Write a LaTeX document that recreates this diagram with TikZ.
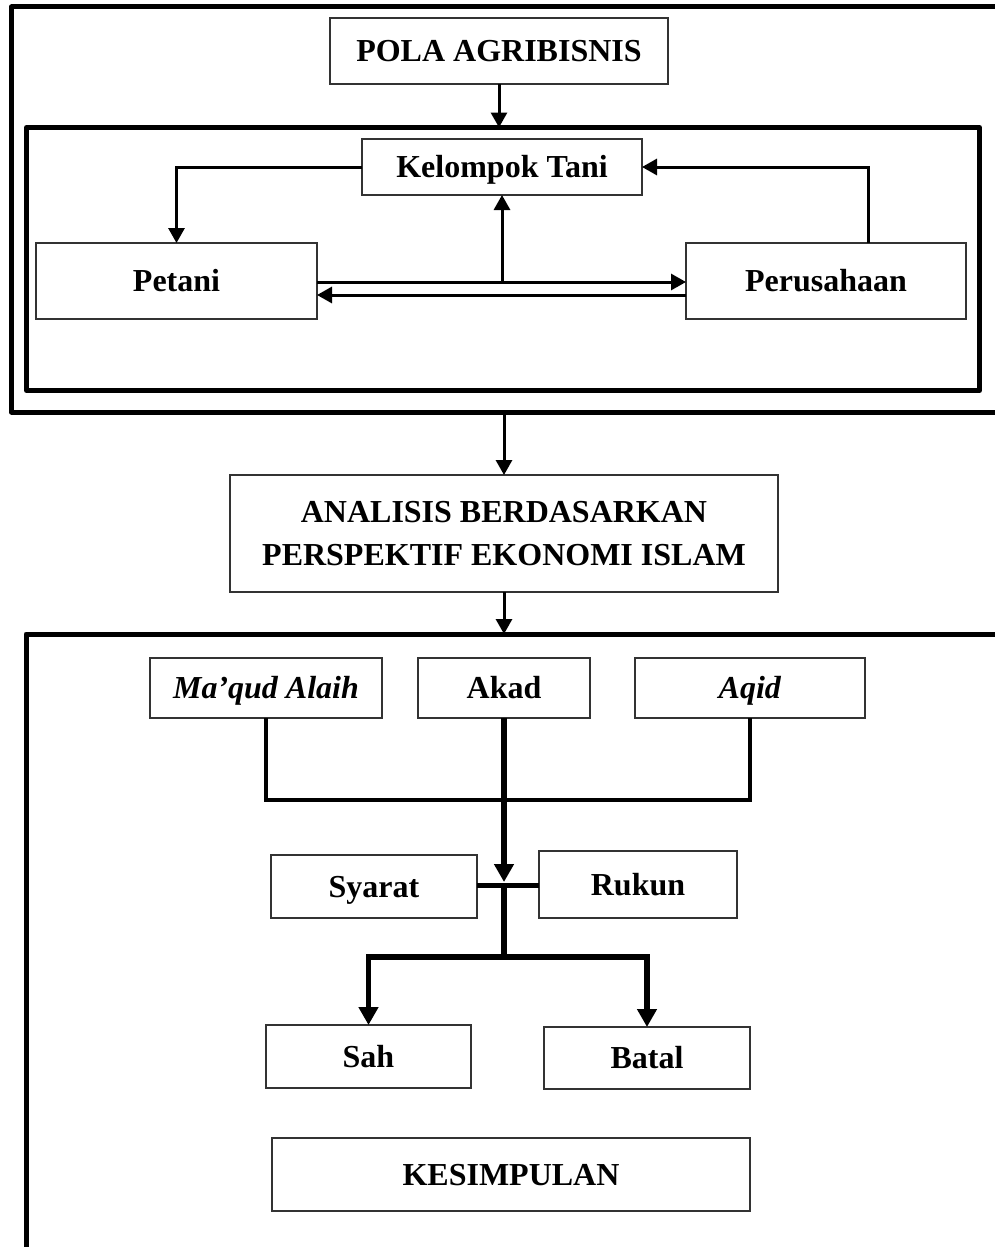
\documentclass[tikz,border=0pt]{standalone}
\usepackage{fontspec}
\setmainfont{Liberation Serif}
\usetikzlibrary{arrows.meta}

\tikzset{
  box/.style={draw=black!80, line width=1.3pt, fill=white, inner sep=0pt, outer sep=0pt,
    align=center, font=\fontsize{32}{43}\selectfont\bfseries},
  one/.style={box, text height=21pt, text depth=0pt},
  frame/.style={draw, line width=5pt, line join=round, inner sep=0pt, outer sep=0pt,
    anchor=north west},
  link/.style={line width=3pt},
  arr/.style={link, -{Triangle[length=15pt,width=16pt]}},
  bar/.style={line width=3.5pt},
  trunk/.style={line width=6.5pt},
  harr/.style={line width=5.5pt, -{Triangle[length=18pt,width=19pt]}},
}

\begin{document}
\begin{tikzpicture}[x=1pt, y=-1pt]
  \useasboundingbox (0,0) rectangle (995,1247);
  \clip (0,0) rectangle (995,1247);
  \fill[white] (0,0) rectangle (995,1247);

  % enclosing frames (open to the right and bottom)
  \node[frame, minimum width=1100pt, minimum height=405pt] (outerA) at (11.5,7) {};
  \node[frame, minimum width=953pt, minimum height=263pt] (inner) at (26.5,127.5) {};
  \node[frame, minimum width=1100pt, minimum height=800pt] (outerB) at (26,634) {};

  % upper part: agribusiness pattern
  \node[one, minimum width=338pt, minimum height=66pt] (pola) at (499,51) {POLA AGRIBISNIS};
  \node[one, minimum width=280pt, minimum height=56pt] (kel) at (502,167) {Kelompok Tani};
  \node[one, minimum width=281pt, minimum height=76pt] (petani) at (176.5,281) {Petani};
  \node[one, minimum width=280pt, minimum height=76pt] (perus) at (826,281) {Perusahaan};

  % analysis box
  \node[box, minimum width=548pt, minimum height=117pt] (analisis) at (504,533.5)
    {ANALISIS BERDASARKAN\\PERSPEKTIF EKONOMI ISLAM};

  % lower part: contract elements
  \node[one, minimum width=232pt, minimum height=60pt] (maqud) at (266,688) {\textit{Ma’qud Alaih}};
  \node[one, minimum width=172pt, minimum height=60pt] (akad) at (504,688) {Akad};
  \node[one, minimum width=230pt, minimum height=60pt] (aqid) at (750,688) {\textit{Aqid}};
  \node[one, minimum width=206pt, minimum height=63pt] (syarat) at (374,886.5) {Syarat};
  \node[one, minimum width=198pt, minimum height=67pt] (rukun) at (638,884.5) {Rukun};
  \node[one, minimum width=205pt, minimum height=63pt] (sah) at (368.5,1056.5) {Sah};
  \node[one, minimum width=206pt, minimum height=62pt] (batal) at (647,1058) {Batal};
  \node[one, minimum width=478pt, minimum height=73pt] (kesimpulan) at (511,1174.5) {KESIMPULAN};

  % connectors of the upper part
  \draw[arr] (pola.south) -- (pola.south |- inner.north);
  \draw[arr] (kel.west) -| (petani.north);
  \draw[arr] ([xshift=42pt]perus.north) |- (kel.east);
  \draw[arr] ([yshift=-1pt]petani.east) -- ([yshift=-1pt]perus.west);
  \draw[arr] ([yshift=-14pt]perus.west) -- ([yshift=-14pt]petani.east);
  \coordinate (mid) at (kel.south |- petani.east);
  \draw[arr] ([yshift=-1pt]mid) -- (kel.south);

  % into and out of the analysis box
  \draw[arr] (analisis.north |- outerA.south) -- (analisis.north);
  \draw[arr] (analisis.south) -- (analisis.south |- outerB.north);

  % connectors of the lower part
  \coordinate (join) at (504,800);
  \coordinate (knot) at (504,885);
  \coordinate (fork) at (504,957);
  \draw[bar] (maqud.south) |- (join) -| (aqid.south);
  \draw[line width=5pt] (syarat.east |- knot) -- (rukun.west |- knot);
  \draw[harr] (akad.south) -- ([yshift=3pt]knot);
  \draw[trunk] (knot) -- (fork);
  \draw[harr] (fork) -| (sah.north);
  \draw[harr] (fork) -| (batal.north);
\end{tikzpicture}
\end{document}
